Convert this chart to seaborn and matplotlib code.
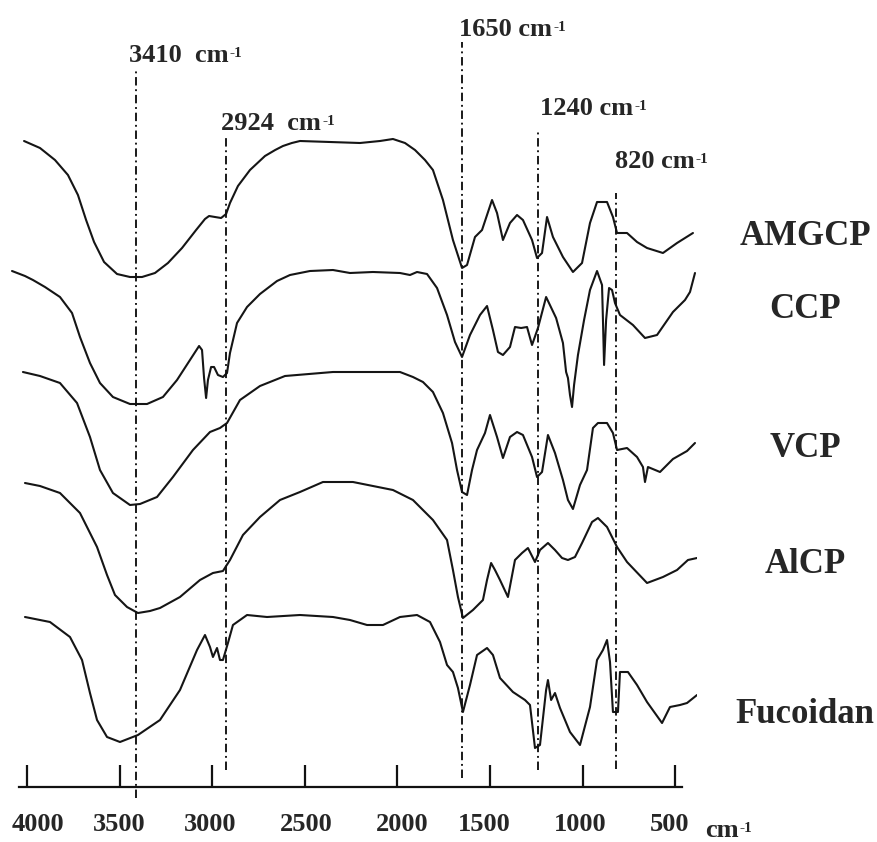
import matplotlib
matplotlib.use("Agg")
import matplotlib.pyplot as plt
from matplotlib.transforms import ScaledTranslation
import pandas as pd
import seaborn as sns

# ---- FTIR spectra: wavenumber (cm-1) and relative transmittance (a.u.) ----
amgcp_wn = [4016, 3930, 3849, 3779, 3725, 3681, 3638, 3584, 3514, 3444, 3379, 3309, 3239, 3163, 3087,
            3039, 3017, 2985, 2952, 2925, 2904, 2861, 2796, 2715, 2660, 2618, 2570, 2526, 2364, 2202,
            2094, 2024, 1959, 1905, 1851, 1808, 1754, 1700, 1651, 1624, 1581, 1543, 1489, 1462, 1430,
            1392, 1354, 1322, 1273, 1246, 1219, 1192, 1160, 1106, 1052, 1003, 960, 922, 868, 836,
            814, 760, 706, 652, 566, 490, 404]
amgcp_t = [0, -7, -19, -34, -54, -79, -101, -121, -133, -136, -136, -132, -122, -107, -89,
           -78, -75, -76, -77, -73, -62, -45, -29, -15, -9, -5, -2, 0, -1, -2,
           0, 2, -2, -9, -19, -29, -59, -99, -127, -124, -96, -89, -59, -72, -99,
           -82, -74, -79, -99, -117, -112, -76, -96, -116, -131, -122, -82, -61, -61, -76,
           -92, -92, -101, -107, -112, -102, -92]

ccp_wn = [4081, 4011, 3968, 3903, 3822, 3757, 3714, 3660, 3606, 3536, 3444, 3352, 3266, 3190, 3120,
          3071, 3055, 3044, 3033, 3023, 3006, 2990, 2969, 2942, 2920, 2904, 2866, 2812, 2742, 2650,
          2580, 2472, 2348, 2256, 2132, 1986, 1932, 1894, 1840, 1786, 1732, 1689, 1651, 1608, 1554,
          1516, 1484, 1457, 1430, 1392, 1365, 1332, 1300, 1273, 1241, 1197, 1143, 1106, 1089, 1079,
          1068, 1057, 1046, 1025, 992, 960, 922, 895, 890, 884, 873, 857, 841, 825, 798,
          728, 663, 598, 512, 447, 420, 393]
ccp_t = [0, -5, -9, -16, -26, -42, -66, -92, -112, -126, -133, -133, -126, -109, -89,
         -75, -79, -107, -127, -109, -96, -96, -104, -106, -102, -82, -52, -36, -23, -10,
         -4, 0, 1, -2, -1, -2, -4, -1, -3, -17, -44, -71, -86, -64, -44,
         -35, -59, -81, -84, -76, -56, -57, -56, -74, -57, -26, -47, -72, -101, -107,
         -124, -136, -114, -84, -49, -19, 0, -14, -49, -94, -49, -17, -19, -32, -44,
         -54, -67, -64, -41, -29, -21, -2]

vcp_wn = [4022, 3930, 3822, 3730, 3660, 3606, 3536, 3444, 3390, 3298, 3212, 3104, 3012, 2958, 2920,
          2850, 2742, 2607, 2348, 1986, 1916, 1862, 1808, 1754, 1705, 1678, 1651, 1624, 1597, 1570,
          1527, 1500, 1462, 1430, 1392, 1354, 1322, 1273, 1246, 1219, 1187, 1149, 1106, 1079, 1052,
          1014, 976, 944, 917, 868, 836, 814, 760, 706, 674, 663, 647, 582, 512, 436, 393]
vcp_t = [0, -4, -11, -31, -65, -98, -121, -133, -132, -125, -105, -78, -60, -56, -51,
         -28, -14, -4, 0, 0, -5, -10, -20, -41, -71, -98, -120, -123, -98, -78,
         -61, -43, -65, -86, -65, -60, -63, -85, -105, -100, -63, -81, -108, -128, -137,
         -113, -98, -56, -51, -51, -61, -78, -76, -85, -95, -110, -95, -100, -87, -79, -71]

alcp_wn = [4011, 3930, 3822, 3714, 3622, 3568, 3525, 3460, 3401, 3336, 3282, 3174, 3066, 2996, 2942,
           2904, 2834, 2742, 2634, 2526, 2402, 2240, 2132, 2024, 1916, 1808, 1732, 1700, 1673, 1646,
           1592, 1538, 1516, 1494, 1473, 1446, 1403, 1365, 1327, 1295, 1257, 1230, 1187, 1149, 1111,
           1079, 1041, 1003, 949, 917, 868, 814, 760, 652, 566, 490, 431, 382]
alcp_t = [-1, -4, -11, -31, -65, -93, -113, -125, -131, -129, -126, -115, -98, -91, -89,
          -78, -53, -35, -18, -10, 0, 0, -4, -8, -18, -38, -58, -88, -115, -136,
          -128, -118, -98, -81, -88, -98, -115, -78, -71, -66, -80, -68, -61, -68, -76,
          -78, -75, -61, -40, -36, -45, -65, -80, -101, -95, -88, -78, -76]

fucoidan_wn = [4011, 3876, 3768, 3703, 3660, 3622, 3568, 3498, 3401, 3282, 3174, 3082, 3039, 3012, 2996,
               2974, 2958, 2942, 2915, 2888, 2812, 2704, 2526, 2348, 2256, 2164, 2078, 1986, 1894, 1824,
               1770, 1732, 1700, 1673, 1646, 1608, 1570, 1516, 1484, 1446, 1376, 1311, 1284, 1257, 1230,
               1197, 1187, 1170, 1149, 1122, 1068, 1014, 960, 922, 890, 868, 852, 836, 809, 798,
               755, 706, 652, 571, 528, 474, 436, 382]
fucoidan_t = [-2, -7, -22, -45, -78, -105, -122, -127, -120, -105, -75, -35, -20, -32, -42,
              -33, -45, -45, -28, -10, 0, -2, 0, -2, -5, -10, -10, -2, 0, -7,
              -27, -50, -57, -73, -97, -70, -40, -33, -40, -63, -77, -85, -90, -133, -130,
              -75, -65, -85, -78, -93, -117, -130, -92, -45, -35, -25, -47, -97, -97, -57,
              -57, -70, -87, -108, -92, -90, -88, -80]

samples = ["AMGCP", "CCP", "VCP", "AlCP", "Fucoidan"]
spectra_wn = [amgcp_wn, ccp_wn, vcp_wn, alcp_wn, fucoidan_wn]
spectra_t = [amgcp_t, ccp_t, vcp_t, alcp_t, fucoidan_t]

# characteristic bands marked with dash-dot guides
bands = [3410, 2924, 1650, 1240, 820]
band_labels = ["3410  cm", "2924  cm", "1650 cm", "1240 cm", "820 cm"]
tick_values = [4000, 3500, 3000, 2500, 2000, 1500, 1000, 500]
tick_labels = ["4000", "3500", "3000", "2500", "2000", "1500", "1000", "500"]
unit_label = "cm"
unit_exponent = "-1"

# ---- layout / style ----
offsets = [646, 516, 415, 305, 172]          # vertical stacking of the traces
band_spans = [(-11, 719), (17, 652), (9, 745), (17, 657), (18, 594)]
band_label_pos = [(3449, 725), (2952, 657), (1667, 751), (1230, 672), (825, 619)]
sample_label_y = [542, 469, 330, 214, 64]
tick_label_shift_px = [11, 0, -2, 1, 5, -6, -2, -6]

sns.set_style("white")
plt.rcParams["font.family"] = ["Liberation Serif", "DejaVu Serif"]
plt.rcParams["font.weight"] = "bold"

frames = []
for name, wn, t, off in zip(samples, spectra_wn, spectra_t, offsets):
    frames.append(pd.DataFrame({"wavenumber": wn,
                                "signal": [v + off for v in t],
                                "sample": name}))
df = pd.concat(frames, ignore_index=True)

W, H = 878, 842
fig = plt.figure(figsize=(W / 100, H / 100), dpi=100)
fig.patch.set_facecolor("white")
ax = fig.add_axes([8.5 / W, 55 / H, 688.9 / W, 787 / H])

sns.lineplot(data=df, x="wavenumber", y="signal", hue="sample",
             palette={s: "#151515" for s in samples}, estimator=None,
             legend=False, linewidth=1.5, ax=ax)
for ln in ax.get_lines():
    ln.set_solid_joinstyle("round")

ax.set_xlim(4100, 380)
ax.set_ylim(0, 787)

for b, (y0, y1) in zip(bands, band_spans):
    ax.vlines(b, y0, y1, colors="#111111", linewidth=1.35,
              linestyles=(0, (4.5, 2, 1, 2)), clip_on=False)


def unit_text(x, y, text, size):
    """Bold serif label followed by a small raised '-1' exponent."""
    main = ax.text(x, y, text, fontsize=size, fontweight="bold", ha="left", va="baseline")
    ax.annotate(unit_exponent, xy=(1, 0), xycoords=main, xytext=(0.8, 7.2),
                textcoords="offset points", fontsize=size * 0.58, fontweight="bold",
                ha="left", va="baseline")
    return main


for lab, (x, y) in zip(band_labels, band_label_pos):
    unit_text(x, y, lab, 19)

for name, y in zip(samples, sample_label_y):
    ax.text(-201, y, name, fontsize=25, fontweight="bold", ha="center", va="baseline")

# x axis: bare bottom line with inward ticks
for side in ("left", "top", "right"):
    ax.spines[side].set_visible(False)
ax.spines["bottom"].set_bounds(4043, 463)
ax.spines["bottom"].set_linewidth(1.6)
ax.spines["bottom"].set_color("#111111")
ax.set_yticks([])
ax.set_xticks(tick_values)
ax.set_xticklabels(tick_labels)
ax.tick_params(axis="x", bottom=True, direction="in", length=15.8, width=1.6, pad=19,
               labelsize=19, color="#111111")
for lbl in ax.get_xticklabels():
    lbl.set_fontweight("bold")
for lbl, dx in zip(ax.get_xticklabels(), tick_label_shift_px):
    lbl.set_transform(lbl.get_transform() + ScaledTranslation(dx / 100, 0, fig.dpi_scale_trans))
ax.set_xlabel("")
ax.set_ylabel("")
unit_text(339, -50, unit_label, 19)

fig.savefig("out.png", dpi=100, facecolor="white")
